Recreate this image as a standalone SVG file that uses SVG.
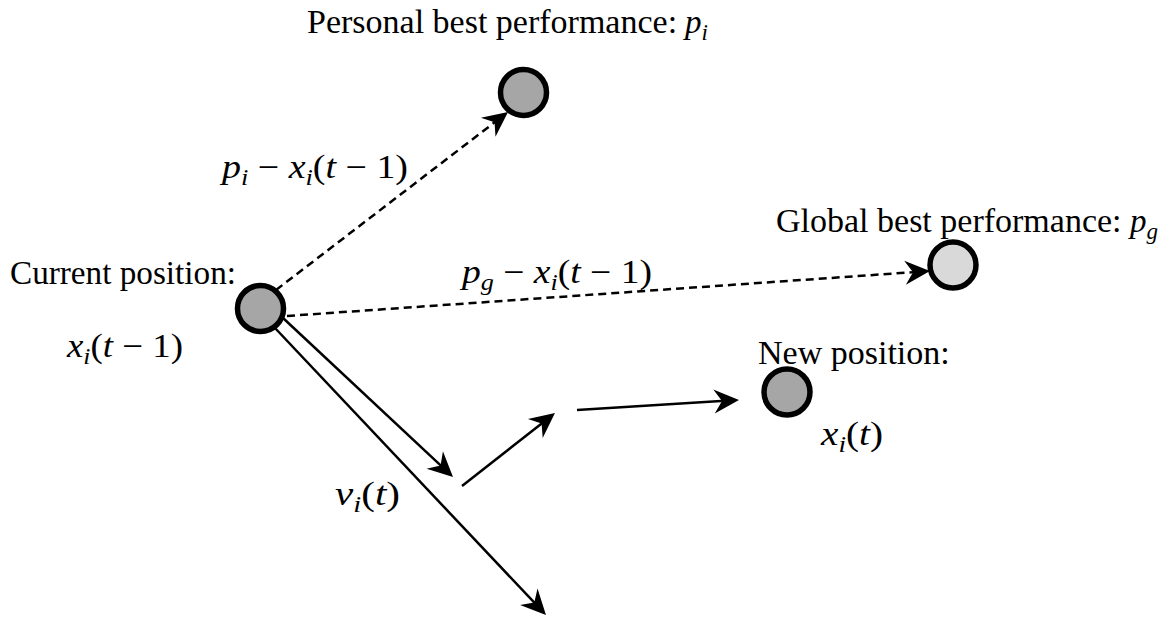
<svg xmlns="http://www.w3.org/2000/svg" width="1170" height="617" viewBox="0 0 1170 617">
<style>
.t{font-family:"Liberation Serif","Times New Roman",serif;font-size:34px;fill:#000}
.m{font-family:"Liberation Serif","Times New Roman",serif;font-size:33px;font-style:italic;fill:#000}
.u{font-style:normal}
.s{font-size:23px}
.node{stroke:#000;stroke-width:5.5}
.dk{fill:#a6a6a6}
.lt{fill:#d9d9d9}
.c{stroke:#000;stroke-width:2.5;fill:none;marker-end:url(#ah)}
.d{stroke-dasharray:8 5}
</style>
<defs>
<marker id="ah" markerUnits="userSpaceOnUse" markerWidth="32" markerHeight="30" viewBox="-18 -15 30 30" refX="0" refY="0" orient="auto">
<path d="M10,0 L-15,-12 L-7,0 L-15,12 Z" fill="#000"/>
</marker>
</defs>
<g id="connectors">
<line class="c d" x1="276" y1="290" x2="500.1" y2="118.1"/>
<line class="c d" x1="287" y1="316" x2="920" y2="271.7"/>
<line class="c" x1="283" y1="318" x2="445.7" y2="470.2"/>
<line class="c" x1="275" y1="328" x2="539.1" y2="607.7"/>
<line class="c" x1="462" y1="486" x2="547.1" y2="419.2"/>
<line class="c" x1="577" y1="410" x2="729" y2="400.6"/>
</g>
<g id="current">
<circle class="node dk" cx="260.5" cy="308.5" r="23"/>
<text class="t" x="10" y="284" textLength="226" lengthAdjust="spacingAndGlyphs">Current position:</text>
<text class="m" x="67" y="357" textLength="116" lengthAdjust="spacingAndGlyphs">x<tspan class="s" dy="7">i</tspan><tspan class="u" dy="-7">(</tspan>t<tspan class="u"> − 1)</tspan></text>
</g>
<g id="personal">
<circle class="node dk" cx="523.5" cy="92.5" r="23"/>
<text class="t" x="307" y="33">Personal best performance:</text>
<text class="m" x="685" y="33">p<tspan class="s" dy="7">i</tspan></text>
</g>
<g id="global">
<circle class="node lt" cx="953" cy="265" r="23"/>
<text class="t" x="776" y="232">Global best performance:</text>
<text class="m" x="1130" y="232">p<tspan class="s" dy="7">g</tspan></text>
</g>
<g id="new">
<circle class="node dk" cx="787" cy="392" r="23"/>
<text class="t" x="758" y="364">New position:</text>
<text class="m" x="821" y="445" textLength="62" lengthAdjust="spacingAndGlyphs">x<tspan class="s" dy="7">i</tspan><tspan class="u" dy="-7">(</tspan>t<tspan class="u">)</tspan></text>
</g>
<g id="labels">
<text class="m" x="222" y="178" textLength="186" lengthAdjust="spacingAndGlyphs">p<tspan class="s" dy="7">i</tspan><tspan class="u" dy="-7"> − </tspan>x<tspan class="s" dy="7">i</tspan><tspan class="u" dy="-7">(</tspan>t<tspan class="u"> − 1)</tspan></text>
<text class="m" x="462" y="283" textLength="190" lengthAdjust="spacingAndGlyphs">p<tspan class="s" dy="7">g</tspan><tspan class="u" dy="-7"> − </tspan>x<tspan class="s" dy="7">i</tspan><tspan class="u" dy="-7">(</tspan>t<tspan class="u"> − 1)</tspan></text>
<text class="m" x="335" y="505" textLength="65" lengthAdjust="spacingAndGlyphs">v<tspan class="s" dy="7">i</tspan><tspan class="u" dy="-7">(</tspan>t<tspan class="u">)</tspan></text>
</g>
</svg>
